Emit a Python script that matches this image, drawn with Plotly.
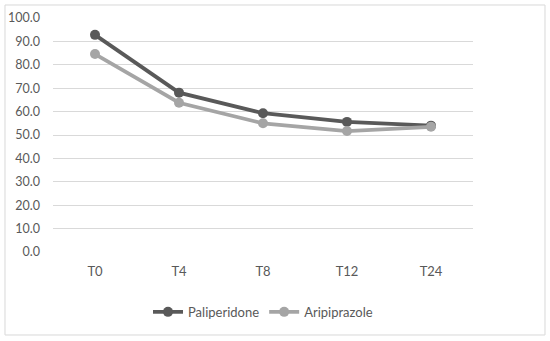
import plotly.graph_objects as go

categories = ["T0", "T4", "T8", "T12", "T24"]
paliperidone = [92.8, 68.1, 59.3, 55.6, 54.0]
aripiprazole = [84.6, 63.8, 55.0, 51.7, 53.5]
y_ticks = [0, 10, 20, 30, 40, 50, 60, 70, 80, 90, 100]

fig = go.Figure()
fig.add_trace(go.Scatter(x=categories, y=paliperidone, name="Paliperidone",
                         mode="lines+markers",
                         line=dict(color="#595959", width=3.75),
                         marker=dict(color="#595959", size=10)))
fig.add_trace(go.Scatter(x=categories, y=aripiprazole, name="Aripiprazole",
                         mode="lines+markers",
                         line=dict(color="#A5A5A5", width=3.75),
                         marker=dict(color="#A5A5A5", size=10)))

fig.update_layout(
    width=550, height=341,
    margin=dict(l=53, r=77, t=18, b=89, autoexpand=False),
    paper_bgcolor="white", plot_bgcolor="white",
    font=dict(family="Lato, Open Sans, sans-serif", size=13, color="#595959"),
    xaxis=dict(type="category", range=[-0.5, 4.5], showgrid=False, showline=False,
               zeroline=False, ticks="", ticklabelstandoff=10, automargin=False),
    yaxis=dict(range=[0, 100], tickvals=y_ticks,
               ticktext=[f"{v:.1f}" for v in y_ticks],
               showgrid=True, gridcolor="#D9D9D9", gridwidth=1,
               zeroline=False, showline=False, ticks="", ticklabelstandoff=12,
               automargin=False, tickfont=dict(size=12.5)),
    legend=dict(orientation="h", x=0.5, xanchor="center", y=-0.256, yanchor="middle",
                font=dict(size=13, color="#595959"), itemwidth=30),
    showlegend=True,
    shapes=[dict(type="rect", xref="paper", yref="paper",
                 x0=-0.1143, x1=1.1714, y0=-0.3547, y1=1.0556,
                 line=dict(color="#D9D9D9", width=1), layer="below")],
)

fig.write_html("out.html",
               config={"displayModeBar": False},
               post_script="document.body.style.margin='0';document.body.style.overflow='hidden';")
